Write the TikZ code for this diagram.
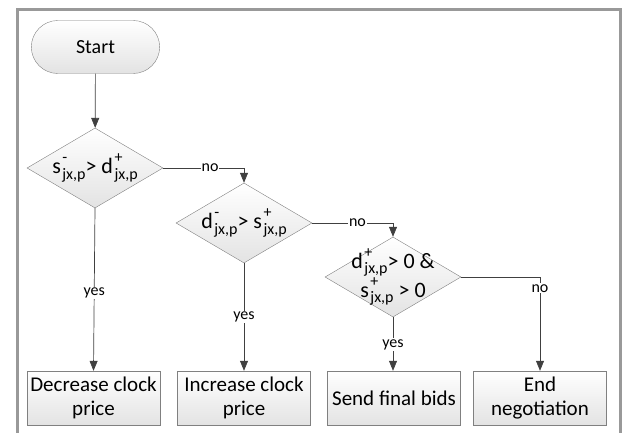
\documentclass[tikz,border=0pt]{standalone}
\usepackage{fontspec}
\setmainfont{Carlito}
\usetikzlibrary{shapes.geometric,shapes.misc,arrows.meta}
\newcommand{\supsub}[2]{\kern1.5pt\rlap{\raisebox{1.05ex}{\fontsize{16}{16}\selectfont #1}}\raisebox{-0.5ex}{\fontsize{16}{16}\selectfont #2}}

\begin{document}
\begin{tikzpicture}[x=1pt,y=-1pt,
		font=\fontsize{21}{24}\selectfont,
		terminal/.style={draw=gray, rounded rectangle, minimum width=135pt, minimum height=53pt, font=\fontsize{20}{24}\selectfont, top color=white, bottom color=gray!22},
		decision/.style={draw=gray, diamond, inner sep=0pt, minimum width=136pt, minimum height=80pt, top color=white, bottom color=gray!22},
		condition/.style={align=center, inner sep=0pt, font=\fontsize{22}{25.5}\selectfont},
		process/.style={draw=gray, rectangle, minimum width=133pt, minimum height=54pt, inner sep=1pt, align=center, top color=white, bottom color=gray!22},
		flow/.style={draw=black!75, line width=0.7pt, -{Triangle[width=8pt,length=10pt]}},
		branch/.style={font=\fontsize{16}{18}\selectfont, fill=white, inner sep=1pt}]
		\useasboundingbox (0,0) rectangle (626,433);
		\draw[gray!80, line width=3pt] (17.5,440) -- (17.5,9.5) -- (620,9.5) -- (620,440);

		\node[terminal] (start) at (95.5,47) {Start};

		\node[decision, label={[condition]center:s\supsub{-}{jx,p}> d\supsub{+}{jx,p}}] (dec1) at (95,168) {};
		\node[decision, label={[condition]center:d\supsub{-}{jx,p}> s\supsub{+}{jx,p}}] (dec2) at (244,223) {};
		\node[decision, label={[condition]center:d\supsub{+}{jx,p}> 0 \&\\s\supsub{+}{jx,p} > 0}] (dec3) at (393,277) {};

		\node[process] (decrease) at (93.5,398) {Decrease clock\\price};
		\node[process] (increase) at (244,398) {Increase clock\\price};
		\node[process] (final) at (394,398) {Send final bids};
		\node[process] (finish) at (540,398) {End\\negotiation};

		\draw[flow] (start) -- (dec1);
		\draw[flow] (dec1.east) -| node[branch, pos=0.29] {no} (dec2.north);
		\draw[flow] (dec2.east) -| node[branch, pos=0.28] {no} (dec3.north);
		\draw[flow] (dec3.east) -| node[branch, pos=0.56] {no} (finish.north);

		\draw[flow] (dec1.south) -- node[branch, pos=0.52] {yes} (decrease.north);
		\draw[flow] (dec2.south) -- node[branch, pos=0.5] {yes} (increase.north);
		\draw[flow] (dec3.south) -- node[branch, pos=0.51] {yes} (final.north -| dec3.south);
	\end{tikzpicture}
\end{document}
